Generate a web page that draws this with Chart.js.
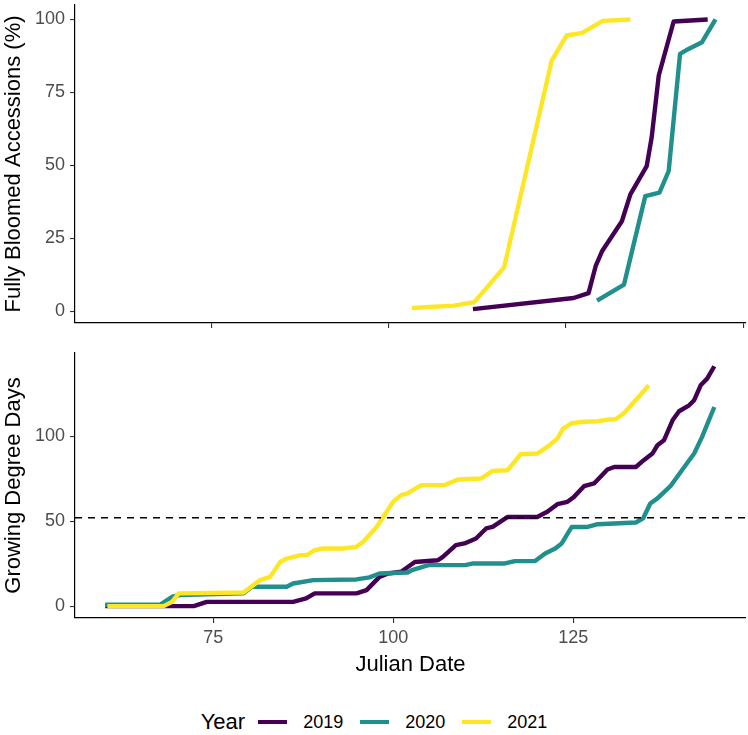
<!DOCTYPE html>
<html>
<head>
<meta charset="utf-8">
<script src="https://cdn.jsdelivr.net/npm/chart.js@4.4.1/dist/chart.umd.min.js"></script>
<style>
    body { margin: 0; background: #fff; font-family: "Liberation Sans", Arial, sans-serif; }
    #wrap { position: relative; width: 748px; height: 735px; }
    #bloomChart { position: absolute; left: 0; top: 0; }
    #gddChart { position: absolute; left: 0; top: 338px; }
    #legend { position: absolute; left: 0; top: 706px; width: 748px; height: 32px;
              display: flex; justify-content: center; align-items: center; color: #000; }
    #legend .title { font-size: 22px; margin-right: 13px; }
    #legend .swatch { width: 29px; height: 4px; margin-right: 16px; }
    #legend .label { font-size: 18px; margin-right: 17px; }
    #legend .label:last-child { margin-right: 0; }
</style>
</head>
<body>
<div id="wrap">
    <canvas id="bloomChart" width="748" height="338"></canvas>
    <canvas id="gddChart" width="748" height="352"></canvas>
    <div id="legend"></div>
</div>
<script>
// years and colours
const years = ["2019", "2020", "2021"];
const yearColors = ["#440154", "#21908C", "#FDE725"];

// top panel: % of accessions fully bloomed
const bloomDays2019 = [111.9, 126.1, 128.2, 129.2, 130.1, 132.9, 134.1, 135.2, 136.4, 137.1, 138.1, 140.2, 145.0];
const bloom2019 = [0.8, 4.6, 6.3, 15.5, 20.6, 30.9, 40.1, 44.7, 49.8, 59.6, 80.8, 99.3, 100];
const bloomDays2020 = [129.4, 133.2, 136.2, 138.2, 139.5, 141.1, 142.3, 144.2, 146.1];
const bloom2020 = [3.7, 9.2, 39.5, 40.7, 48.1, 88.2, 89.9, 92.2, 100];
const bloomDays2021 = [103.3, 109.2, 112.1, 116.3, 123.0, 125.1, 127.3, 130.2, 134.1];
const bloom2021 = [1.2, 2.0, 3.2, 15.1, 85.9, 94.5, 95.4, 99.5, 100];

// bottom panel: cumulative growing degree days
const gddDays2019 = [60, 72.3, 74.1, 86.1, 87.9, 89.1, 94.9, 96.3, 98.1, 99.3, 101.1, 103.0, 106.2, 106.9, 108.7, 109.9,
    111.5, 112.9, 113.8, 115.9, 120.0, 121.4, 122.8, 124.2, 125.1, 126.5, 127.9, 129.75, 130.7, 133.7, 134.8, 136.0,
    136.7, 137.6, 138.8, 139.7, 141.1, 141.8, 142.7, 143.6, 144.6];
const gdd2019 = [0, 0, 2.5, 2.5, 4.5, 7.5, 7.5, 9.4, 17.2, 19.2, 20.2, 26, 27, 29, 35.9, 36.9,
    39.8, 45.7, 46.6, 52.5, 52.5, 55.5, 60, 61.4, 64.3, 70.6, 72.2, 80.4, 81.9, 81.9, 85.9, 89.8,
    94.7, 97.6, 109.4, 114.7, 118.2, 121.2, 130, 133.9, 141.2];
const gddDays2020 = [60, 67.7, 69.3, 70.4, 79.2, 80.4, 85.2, 86.1, 88.9, 94.9, 96.7, 98.1, 102.0, 102.6, 104.9, 110.0,
    111.1, 115.5, 116.9, 119.7, 121.1, 122.5, 123.4, 124.8, 127.0, 128.4, 130.7, 133.7, 134.7, 135.7, 136.7, 138.5,
    140.1, 141.8, 142.9, 144.6];
const gdd2020 = [0.8, 1, 5.5, 6.5, 7.5, 11.4, 11.4, 13.3, 15.3, 15.7, 16.9, 19.2, 19.8, 21.2, 24.1, 24.1,
    25.1, 25.1, 26.5, 26.5, 31, 33.9, 36.9, 46.6, 46.6, 48.2, 48.6, 49.2, 51.6, 60.4, 63.4, 70.6,
    80, 89.8, 99.6, 117.2];
const gddDays2021 = [60.3, 68.1, 69.3, 70.2, 79.2, 81.5, 82.9, 84.3, 85.2, 87.1, 88.0, 89.1, 90.3, 93.0, 94.9, 95.8,
    97.7, 100.0, 101.1, 102.0, 103.9, 107.1, 109.0, 112.2, 113.8, 115.9, 117.7, 120.0, 121.4, 122.8, 123.6, 124.7,
    126.0, 128.4, 129.75, 130.9, 132.0, 133.9, 135.5];
const gdd2021 = [0, 0, 2.5, 7.5, 8, 15.3, 17.2, 26, 28, 30, 30, 32.9, 33.9, 33.9, 34.9, 37.8,
    46.6, 61.4, 65.3, 66.3, 71.2, 71.2, 74.5, 75.1, 79.6, 80, 89.4, 89.8, 93.7, 98.6, 104.5, 107.5,
    108.4, 108.8, 109.8, 110, 113.4, 122.2, 130];
const gddThreshold = 52;

// axis ticks
const bloomTicksX = [75, 100, 125, 150];
const bloomTicksY = [0, 25, 50, 75, 100];
const gddTicksX = [75, 100, 125];
const gddTicksY = [0, 50, 100];

Chart.defaults.font.family = '"Liberation Sans", Arial, sans-serif';

function pts(xs, ys) {
    return xs.map((x, i) => ({ x: x, y: ys[i] }));
}

function lineSet(i, xs, ys) {
    return {
        label: years[i],
        data: pts(xs, ys),
        borderColor: yearColors[i],
        backgroundColor: yearColors[i],
        borderWidth: 4.4,
        borderJoinStyle: "round",
        pointRadius: 0,
        showLine: true,
        tension: 0,
        order: 3 - i
    };
}

function fixTicks(list) {
    return function (scale) {
        scale.ticks = list.map(v => ({ value: v }));
    };
}

function fixSize(w, h) {
    return function (scale) {
        if (w) scale.width = w;
        if (h) scale.height = h;
        scale.paddingTop = 0;
        scale.paddingBottom = 0;
        scale.paddingLeft = 0;
        scale.paddingRight = 0;
    };
}

const gridStyle = { display: true, drawOnChartArea: false, drawTicks: true, tickLength: 5, color: "#333333", lineWidth: 1.1 };
const borderStyle = { display: true, color: "#000", width: 1.2 };
const tickFont = { size: 18 };

function baseOptions(pad) {
    return {
        responsive: false,
        animation: false,
        layout: { padding: pad },
        plugins: { legend: { display: false }, tooltip: { enabled: false } }
    };
}

// top panel
const bloomOpts = baseOptions({ top: 5, right: 2, left: 0, bottom: 0 });
bloomOpts.scales = {
    x: {
        type: "linear", min: 55.8, max: 150.4,
        grid: gridStyle, border: borderStyle,
        ticks: { display: false },
        afterBuildTicks: fixTicks(bloomTicksX),
        afterFit: fixSize(0, 15)
    },
    y: {
        type: "linear", min: -3.95, max: 104.95,
        grid: gridStyle, border: borderStyle,
        ticks: { color: "#4D4D4D", font: tickFont, padding: 5 },
        afterBuildTicks: fixTicks(bloomTicksY),
        afterFit: fixSize(75, 0),
        title: { display: true, text: "Fully Bloomed Accessions (%)", color: "#000", font: { size: 22 }, padding: { top: 1, bottom: 0 } }
    }
};

new Chart(document.getElementById("bloomChart"), {
    type: "scatter",
    data: {
        datasets: [
            lineSet(0, bloomDays2019, bloom2019),
            lineSet(1, bloomDays2020, bloom2020),
            lineSet(2, bloomDays2021, bloom2021)
        ]
    },
    options: bloomOpts
});

// bottom panel
const gddXMin = 55.8, gddXMax = 149.0;
const gddOpts = baseOptions({ top: 15, right: 2, left: 0, bottom: 0 });
gddOpts.scales = {
    x: {
        type: "linear", min: gddXMin, max: gddXMax,
        grid: gridStyle, border: borderStyle,
        ticks: { color: "#4D4D4D", font: tickFont, padding: 4 },
        afterBuildTicks: fixTicks(gddTicksX),
        afterFit: fixSize(0, 72),
        title: { display: true, text: "Julian Date", color: "#000", font: { size: 22 }, padding: { top: 2, bottom: 12 } }
    },
    y: {
        type: "linear", min: -7, max: 149,
        grid: gridStyle, border: borderStyle,
        ticks: { color: "#4D4D4D", font: tickFont, padding: 5 },
        afterBuildTicks: fixTicks(gddTicksY),
        afterFit: fixSize(75, 0),
        title: { display: true, text: "Growing Degree Days", color: "#000", font: { size: 22 }, padding: { top: 1, bottom: 0 } }
    }
};

new Chart(document.getElementById("gddChart"), {
    type: "scatter",
    data: {
        datasets: [
            lineSet(0, gddDays2019, gdd2019),
            lineSet(1, gddDays2020, gdd2020),
            lineSet(2, gddDays2021, gdd2021),
            {
                label: "threshold",
                data: [{ x: gddXMin, y: gddThreshold }, { x: gddXMax, y: gddThreshold }],
                borderColor: "#000",
                borderWidth: 1.6,
                borderDash: [7, 6],
                pointRadius: 0,
                showLine: true,
                order: 0
            }
        ]
    },
    options: gddOpts
});

// legend
const legend = document.getElementById("legend");
let html = '<span class="title">Year</span>';
years.forEach((y, i) => {
    html += '<span class="swatch" style="background:' + yearColors[i] + '"></span><span class="label">' + y + '</span>';
});
legend.innerHTML = html;
</script>
</body>
</html>
